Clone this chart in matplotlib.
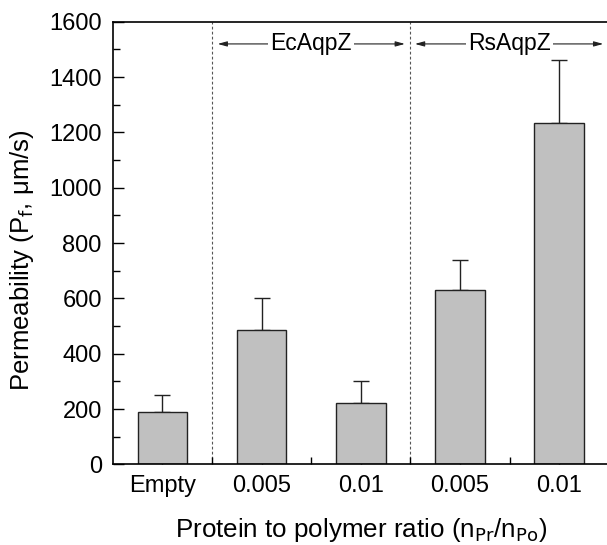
import numpy as np
import matplotlib.pyplot as plt

plt.rcParams['font.family'] = ['Liberation Sans', 'DejaVu Sans']

labels = ['Empty', '0.005', '0.01', '0.005', '0.01']
perm = [190, 485, 222, 631, 1233]
perm_err = [59, 117, 80, 108, 228]
groups = ['EcAqpZ', 'RsAqpZ']

x = np.arange(1, len(labels) + 1)

fig = plt.figure(figsize=(6.07, 5.45), dpi=100)
ax = fig.add_axes([0.186, 0.148, 0.817, 0.812])

ax.bar(x, perm, width=0.5, color='#c0c0c0', edgecolor='#222222', linewidth=1.0, zorder=2)
ax.errorbar(x, perm, yerr=[np.zeros(len(perm)), perm_err], fmt='none',
            ecolor='#222222', elinewidth=1.0, capsize=5.8, capthick=1.0, zorder=1)

# group separators
for xs in [1.5, 3.5]:
    ax.axvline(xs, color='#555555', linestyle=(0, (2.5, 2)), linewidth=0.8, zorder=0)

# group arrows
ya = 1520
spans = [(1.556, 3.444), (3.545, 5.444)]
for name, (a, b) in zip(groups, spans):
    c = (a + b) / 2
    for end in (a, b):
        ax.annotate('', xy=(end, ya), xytext=(c, ya),
                    arrowprops=dict(arrowstyle='-|>,head_length=0.55,head_width=0.15',
                                    color='#222222', lw=0.8, shrinkA=0, shrinkB=0))
    ax.text(c, ya, name, ha='center', va='center', fontsize=16.5,
            bbox=dict(facecolor='white', edgecolor='none', pad=1.5))

ax.set_xlim(0.5, 5.5)
ax.set_ylim(0, 1600)
ax.set_xticks(x)
ax.set_xticklabels(labels)
ax.set_xticks([1.5, 2.5, 3.5, 4.5], minor=True)
ax.set_yticks(np.arange(0, 1601, 200))
ax.set_yticks(np.arange(100, 1600, 200), minor=True)
ax.tick_params(which='both', direction='in', labelsize=17, width=1.0)
ax.tick_params(which='major', length=8, pad=8)
ax.tick_params(which='minor', length=5)
ax.tick_params(axis='x', which='both', top=False)
ax.spines['right'].set_visible(False)
for s in ['left', 'bottom', 'top']:
    ax.spines[s].set_linewidth(1.2)

ax.set_xlabel('Protein to polymer ratio (n$_{\\mathrm{Pr}}$/n$_{\\mathrm{Po}}$)', fontsize=18.7, labelpad=13)
ax.set_ylabel('Permeability (P$_{\\mathrm{f}}$, \u03bcm/s)', fontsize=18.5)
ax.yaxis.set_label_coords(-0.155, 0.462)

fig.savefig('out.png', dpi=100)
